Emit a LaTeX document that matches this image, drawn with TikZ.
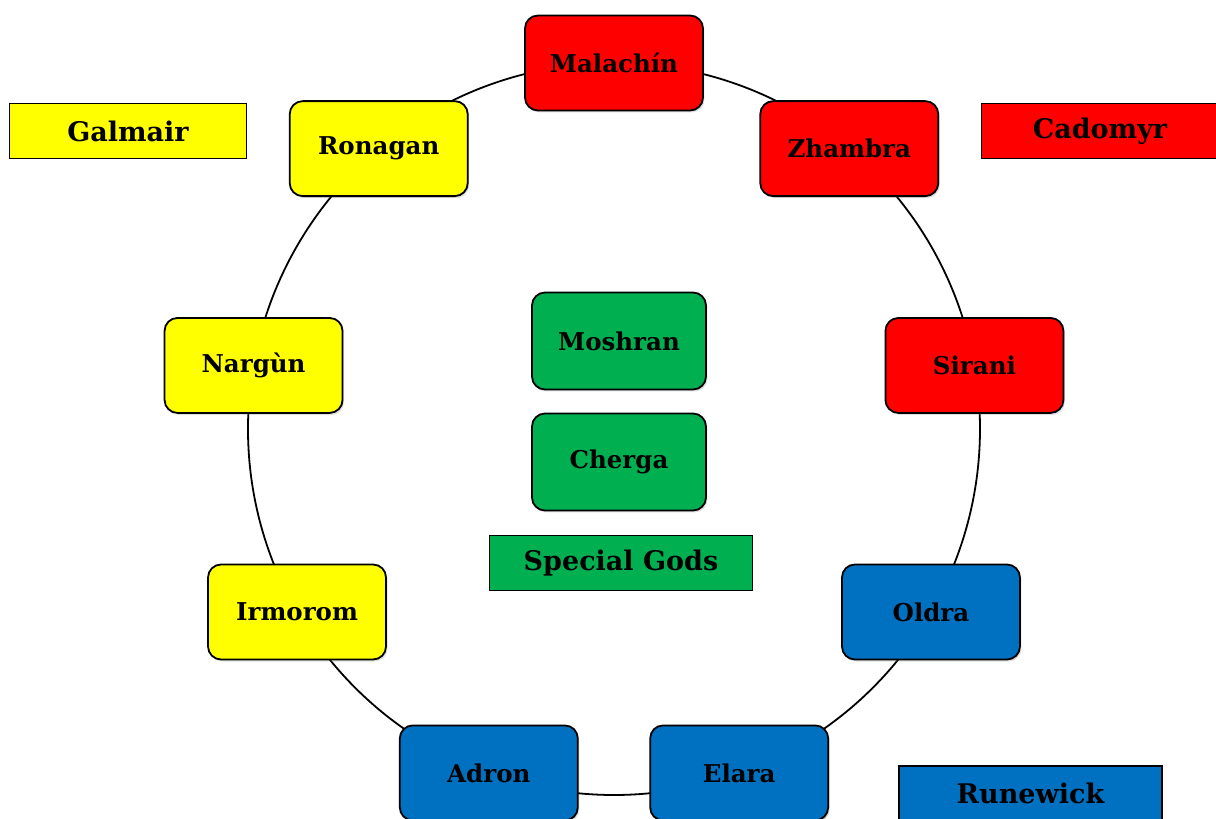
\documentclass[tikz,border=0pt]{standalone}
\usepackage{fontspec}
\setmainfont{DejaVu Serif}
\usetikzlibrary{shadows,backgrounds}
\definecolor{realmred}{RGB}{255,0,0}
\definecolor{realmyellow}{RGB}{255,255,0}
\definecolor{realmblue}{RGB}{0,112,192}
\definecolor{realmgreen}{RGB}{0,176,80}
\tikzset{
every picture/.style={
line width=1.5pt
},
god/.style={draw, line width=1.8pt, rounded corners=13pt, minimum width=178pt, minimum height=95pt,
  font=\bfseries\fontsize{24.5}{24.5}\selectfont,
  drop shadow={opacity=0.25, shadow xshift=1.5pt, shadow yshift=-2pt}},
realm/.style={draw, line width=1.8pt, minimum height=55pt, font=\bfseries\fontsize{27}{27}\selectfont},
ring/.style={draw, line width=1.8pt}
}

\begin{document}
\begin{tikzpicture}[x=1pt, y=1pt]
\useasboundingbox (-614,-390) rectangle (602,429);

% the nine gods sit on the ring, 40 degrees apart
\foreach \a/\name/\col [count=\ai] in {90/Malachín/realmred, 50/Zhambra/realmred, 10/Sirani/realmred, -30/Oldra/realmblue, -70/Elara/realmblue, -110/Adron/realmblue, -150/Irmorom/realmyellow, 170/Nargùn/realmyellow, 130/Ronagan/realmyellow}{
  \node[god, fill=\col] (g\ai) at (\a:366pt) {\name};
}

% ring pieces from god to god
\begin{scope}[on background layer]
\foreach \a [count=\ai] in {90, 50, 10, -30, -70, -110, -150, -190, -230}{
  \path[ring] (g\ai.center) arc[start angle=\a, end angle=\a-40, radius=366pt];
}
\end{scope}

% special gods
\node[god, fill=realmgreen, minimum width=174pt, minimum height=97pt] (moshran) at (5,88) {Moshran};
\node[god, fill=realmgreen, minimum width=174pt, minimum height=97pt] (cherga) at (5,-33) {Cherga};

% realms
\node[realm, fill=realmyellow, minimum width=237pt] (galmair) at (-486,298) {Galmair};
\node[realm, fill=realmred, minimum width=237pt] (cadomyr) at (486,298) {Cadomyr};
\node[realm, fill=realmgreen, minimum width=263pt] (special) at (7,-134) {Special Gods};
\node[realm, fill=realmblue, minimum width=263pt] (runewick) at (416.5,-364.5) {Runewick};
\end{tikzpicture}
\end{document}
